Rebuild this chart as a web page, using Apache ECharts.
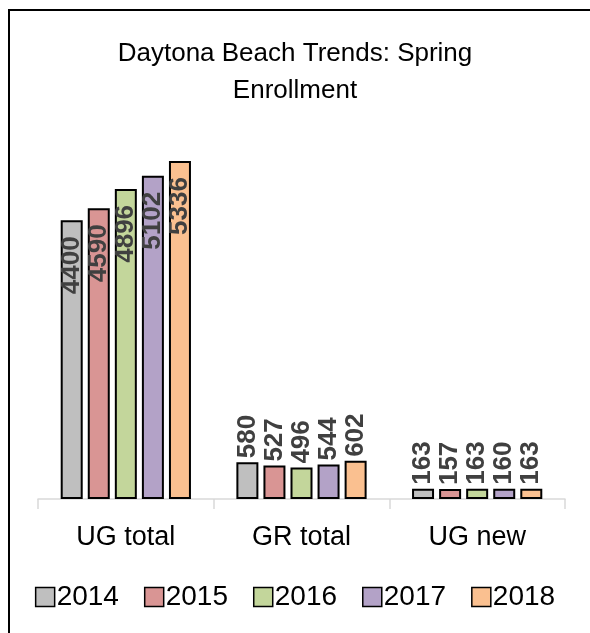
<!DOCTYPE html>
<html><head><meta charset="utf-8">
<script src="https://cdn.jsdelivr.net/npm/echarts@6/dist/echarts.min.js"></script>
<style>html,body{margin:0;padding:0;background:#fff}#c{width:590px;height:633px}</style>
</head><body><div id="c"></div>
<script>
const categories = ['UG total', 'GR total', 'UG new'];
const years = ['2014', '2015', '2016', '2017', '2018'];
const v2014 = [4400, 580, 163];
const v2015 = [4590, 527, 157];
const v2016 = [4896, 496, 163];
const v2017 = [5102, 544, 160];
const v2018 = [5336, 602, 163];
const seriesValues = [v2014, v2015, v2016, v2017, v2018];
const colors = ['#BFBFBF', '#D99594', '#C3D69B', '#B3A2C7', '#FAC090'];

const font = 'Liberation Sans';
const chart = echarts.init(document.getElementById('c'));
const series = years.map((y, i) => ({
  name: y,
  type: 'bar',
  barWidth: 22,
  barGap: '23%',
  itemStyle: { color: colors[i], borderColor: '#000', borderWidth: 2 },
  label: {
    show: true, position: 'top', rotate: 90, align: 'left', verticalAlign: 'middle',
    distance: 4, color: '#404040', fontFamily: font, fontWeight: 'bold', fontSize: 26
  },
  data: seriesValues[i].map((v, j) => j === 0 ? {
    value: v,
    label: { position: 'insideTop', align: 'right', distance: 16 }
  } : v)
}));
chart.setOption({
  animation: false,
  title: {
    text: 'Daytona Beach Trends: Spring\nEnrollment',
    left: 'center', top: 30,
    textStyle: { fontFamily: font, fontWeight: 'normal', fontSize: 26, color: '#000', lineHeight: 37 }
  },
  legend: {
    bottom: 17, left: 'center', itemWidth: 19, itemHeight: 19, itemGap: 25,
    icon: 'rect',
    itemStyle: { borderColor: '#000', borderWidth: 1.5 },
    textStyle: { fontFamily: font, fontSize: 28, color: '#000', padding: [0, 0, 0, -3] }
  },
  grid: { left: 38, right: 25, top: 119, bottom: 134 },
  xAxis: {
    type: 'category', data: categories,
    axisLine: { lineStyle: { color: '#D9D9D9', width: 1.5 } },
    axisTick: { show: true, length: 10, lineStyle: { color: '#D9D9D9', width: 1.5 } },
    axisLabel: { fontFamily: font, fontSize: 27, color: '#000', margin: 25 }
  },
  yAxis: { type: 'value', min: 0, max: 6000, show: false, splitLine: { show: false } },
  graphic: [
    { type: 'line', shape: { x1: 8, y1: 10, x2: 590, y2: 10 }, style: { stroke: '#000', lineWidth: 2 } },
    { type: 'line', shape: { x1: 9, y1: 10, x2: 9, y2: 633 }, style: { stroke: '#000', lineWidth: 2 } }
  ],
  series
});
</script></body></html>
